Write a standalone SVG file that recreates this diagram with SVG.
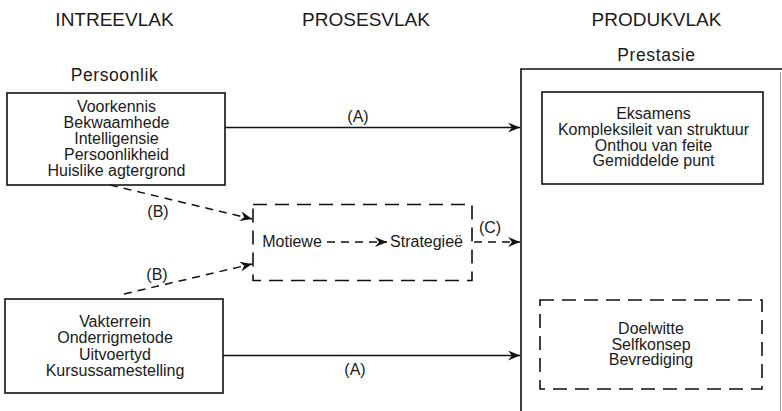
<svg xmlns="http://www.w3.org/2000/svg" width="782" height="411" viewBox="0 0 782 411">
  <defs>
    <marker id="barb" viewBox="0 0 12 10" refX="12" refY="5" markerWidth="12" markerHeight="10" markerUnits="userSpaceOnUse" orient="auto">
      <path d="M0,0 L12,5 L0,10 L4,5 z" fill="#111"/>
    </marker>
    <style>
      text { font-family: "Liberation Sans", Arial, sans-serif; fill: #1a1a1a; text-anchor: middle; }
      .head { font-size: 19px; }
      .sub { font-size: 17.5px; letter-spacing: 0.6px; }
      .body { font-size: 16px; }
      .lbl { font-size: 16px; }
      .box { fill: none; stroke: #111; stroke-width: 1.6; }
      .dbox { fill: none; stroke: #111; stroke-width: 1.6; stroke-dasharray: 14 8; }
      .line { fill: none; stroke: #111; stroke-width: 1.6; }
      .dline { fill: none; stroke: #111; stroke-width: 1.5; stroke-dasharray: 8 6; }
    </style>
  </defs>

  <rect width="782" height="411" fill="#fff"/>

  <!-- column headings -->
  <g id="headings">
    <text class="head" x="114.5" y="26">INTREEVLAK</text>
    <text class="head" x="366" y="26">PROSESVLAK</text>
    <text class="head" x="656.5" y="26">PRODUKVLAK</text>
  </g>

  <!-- personal input factors -->
  <g id="persoonlik">
    <text class="sub" x="114.5" y="81">Persoonlik</text>
    <rect class="box" x="7" y="93" width="218" height="92"/>
    <text class="body" x="116.5" y="112">Voorkennis</text>
    <text class="body" x="116.5" y="128">Bekwaamhede</text>
    <text class="body" x="116.5" y="143.5">Intelligensie</text>
    <text class="body" x="116.5" y="159.5">Persoonlikheid</text>
    <text class="body" x="116.5" y="176">Huislike agtergrond</text>
  </g>

  <!-- course input factors -->
  <g id="kursus">
    <rect class="box" x="5" y="299" width="218" height="94"/>
    <text class="body" x="115" y="327">Vakterrein</text>
    <text class="body" x="115" y="343">Onderrigmetode</text>
    <text class="body" x="115" y="359.5">Uitvoertyd</text>
    <text class="body" x="115" y="376">Kursussamestelling</text>
  </g>

  <!-- process level -->
  <g id="proses">
    <rect class="dbox" x="253" y="204.5" width="219" height="76"/>
    <text class="lbl" x="292" y="247">Motiewe</text>
    <text class="lbl" x="426.5" y="247">Strategieë</text>
  </g>

  <!-- output level -->
  <g id="prestasie">
    <text class="sub" x="656.5" y="61">Prestasie</text>
    <path class="line" d="M521,411 L521,69 L782,69"/>
    <line x1="780.5" y1="72" x2="780.5" y2="411" stroke="#9a9a9a" stroke-width="1"/>
  </g>

  <g id="eksamens">
    <rect class="box" x="542" y="92" width="221" height="92"/>
    <text class="body" x="653.5" y="118.5">Eksamens</text>
    <text class="body" x="653.5" y="135">Kompleksileit van struktuur</text>
    <text class="body" x="653.5" y="150.5">Onthou van feite</text>
    <text class="body" x="653.5" y="166">Gemiddelde punt</text>
  </g>

  <g id="doelwitte">
    <rect class="dbox" x="540" y="300" width="222" height="89"/>
    <text class="body" x="651" y="334">Doelwitte</text>
    <text class="body" x="651" y="349.5">Selfkonsep</text>
    <text class="body" x="651" y="365">Bevrediging</text>
  </g>

  <!-- connectors -->
  <g id="connectors">
    <line class="line" x1="225" y1="127.5" x2="520" y2="127.5" marker-end="url(#barb)"/>
    <line class="line" x1="223" y1="355.5" x2="520" y2="355.5" marker-end="url(#barb)"/>
    <line class="dline" x1="110" y1="185" x2="252" y2="219" marker-end="url(#barb)"/>
    <line class="dline" x1="124" y1="294" x2="252" y2="264" marker-end="url(#barb)"/>
    <line class="dline" x1="327" y1="242" x2="387" y2="242" marker-end="url(#barb)"/>
    <line class="dline" x1="474" y1="242" x2="520" y2="242" marker-end="url(#barb)"/>
  </g>

  <!-- connector labels -->
  <g id="labels">
    <text class="lbl" x="358" y="122">(A)</text>
    <text class="lbl" x="355" y="375">(A)</text>
    <text class="lbl" x="158" y="217">(B)</text>
    <text class="lbl" x="157" y="280">(B)</text>
    <text class="lbl" x="490" y="233">(C)</text>
  </g>
</svg>
